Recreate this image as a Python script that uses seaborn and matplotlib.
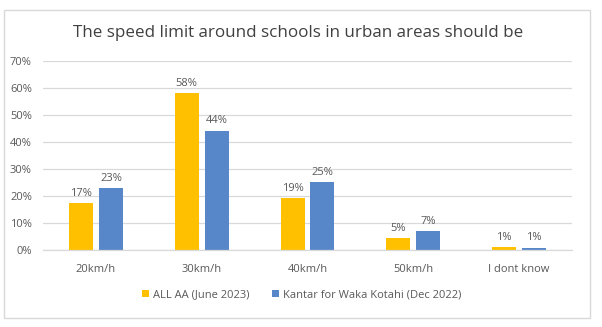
import matplotlib
matplotlib.use("Agg")
import matplotlib.pyplot as plt
import seaborn as sns
import pandas as pd
from matplotlib.patches import Rectangle
from matplotlib.ticker import MultipleLocator, FuncFormatter

categories = ["20km/h", "30km/h", "40km/h", "50km/h", "I dont know"]
series_names = ["ALL AA (June 2023)", "Kantar for Waka Kotahi (Dec 2022)"]
all_aa = [17.4, 58.1, 19.3, 4.5, 1.2]
kantar = [23.0, 44.2, 25.2, 7.0, 0.9]
labels_aa = ["17%", "58%", "19%", "5%", "1%"]
labels_kantar = ["23%", "44%", "25%", "7%", "1%"]
colors = ["#FFC000", "#5787C9"]

df = pd.DataFrame({
    "category": categories * 2,
    "series": [series_names[0]] * 5 + [series_names[1]] * 5,
    "value": all_aa + kantar,
})

sns.set_theme(style="white")
plt.rcParams["font.family"] = ["Open Sans", "DejaVu Sans"]
text_color = "#595959"

W, H = 602, 327
fig = plt.figure(figsize=(W / 100, H / 100), dpi=100)
ax = fig.add_axes([43 / W, 1 - 250 / H, (572 - 43) / W, (250 - 61) / H])

sns.barplot(data=df, x="category", y="value", hue="series", order=categories,
            hue_order=series_names, palette=colors, width=0.567, gap=0.2,
            saturation=1, linewidth=0, ax=ax, legend=True)

ax.set_ylim(0, 70)
ax.yaxis.set_major_locator(MultipleLocator(10))
ax.yaxis.set_major_formatter(FuncFormatter(lambda v, p: f"{int(v)}%"))
ax.grid(axis="y", color="#D9D9D9", linewidth=0.9)
ax.set_axisbelow(True)
for s in ["top", "right", "left"]:
    ax.spines[s].set_visible(False)
ax.spines["bottom"].set_color("#D9D9D9")
ax.spines["bottom"].set_linewidth(0.9)
ax.set_xlabel("")
ax.set_ylabel("")
ax.tick_params(axis="both", length=0, labelsize=8, colors=text_color)
ax.tick_params(axis="x", pad=10)
ax.tick_params(axis="y", pad=8)

for cont, labs in zip(ax.containers, [labels_aa, labels_kantar]):
    ax.bar_label(cont, labels=labs, padding=3, fontsize=8, color=text_color)

fig.text(298.5 / W, 1 - 33 / H,
         "The speed limit around schools in urban areas should be",
         fontsize=12.25, color="#404040", ha="center", va="center")

ax.get_legend().remove()
handles, labels = ax.get_legend_handles_labels()
leg = fig.legend(handles, labels, loc="center", bbox_to_anchor=(302 / W, 1 - 295 / H),
                 ncol=2, frameon=False, fontsize=8, handlelength=0.6,
                 handleheight=0.6, handletextpad=0.4, columnspacing=2.0)
for t in leg.get_texts():
    t.set_color(text_color)

fig.patches.append(Rectangle((4 / W, 1 - 318 / H), 586 / W, 308 / H,
                             transform=fig.transFigure, fill=False,
                             edgecolor="#D9D9D9", linewidth=1.0))

fig.savefig("out.png", dpi=100)
